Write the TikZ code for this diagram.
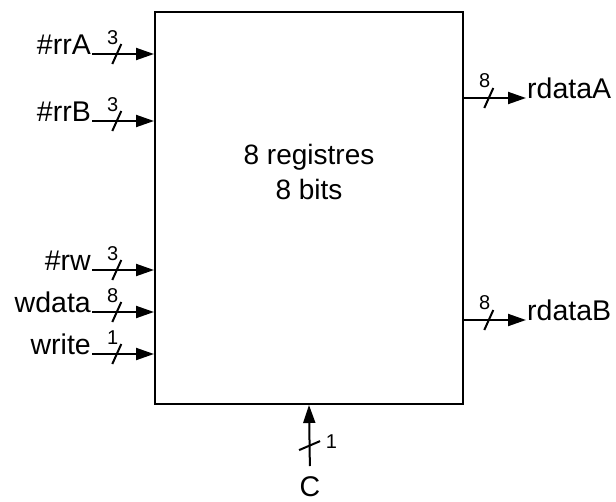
\documentclass[tikz,border=0pt]{standalone}
\usepackage{fontspec}
\setmainfont{Liberation Sans}
\usetikzlibrary{arrows.meta,positioning}

\begin{document}
\begin{tikzpicture}[
                    x=1pt, y=-1pt,
                    reg box/.style={
                        draw,
                        line width=2pt,
                        minimum width=308pt,
                        minimum height=392pt,
                        inner sep=0pt
                    },
                    reg text/.style={align=center, font=\fontsize{28}{35}\selectfont},
                    sig/.style={font=\fontsize{28.5}{32}\selectfont, inner sep=1pt},
                    width label/.style={font=\fontsize{20}{22}\selectfont, inner sep=0pt},
                    bus/.style={draw, line width=2pt, -{Triangle[length=18pt,width=12pt]}},
                    slash line/.style={draw, line width=2pt}
                ]
    \useasboundingbox (0,0) rectangle (616,501);

    \node[reg box] (reg) at (309,208) {};
    \node[reg text] (regtxt) at (309,172) {8 registres\\8 bits};

    % entrees a gauche
    \node[sig, anchor=base east] (rrA) at (92,54) {\#rrA};
    \node[sig, anchor=base east] (rrB) at (92,121) {\#rrB};
    \node[sig, anchor=base east] (rw) at (92,270) {\#rw};
    \node[sig, anchor=base east] (wdata) at (92,312) {wdata};
    \node[sig, anchor=base east] (write) at (92,354) {write};

    \draw[bus] (rrA.base east) -- coordinate[pos=0.4] (rrAs) (reg.west |- rrA.base east);
    \draw[bus] (rrB.base east) -- coordinate[pos=0.4] (rrBs) (reg.west |- rrB.base east);
    \draw[bus] (rw.base east) -- coordinate[pos=0.4] (rws) (reg.west |- rw.base east);
    \draw[bus] (wdata.base east) -- coordinate[pos=0.4] (wdatas) (reg.west |- wdata.base east);
    \draw[bus] (write.base east) -- coordinate[pos=0.4] (writes) (reg.west |- write.base east);

    \draw[slash line] ([shift={(-4.5,10)}]rrAs) -- ([shift={(4.5,-10)}]rrAs);
    \draw[slash line] ([shift={(-4.5,10)}]rrBs) -- ([shift={(4.5,-10)}]rrBs);
    \draw[slash line] ([shift={(-4.5,10)}]rws) -- ([shift={(4.5,-10)}]rws);
    \draw[slash line] ([shift={(-4.5,10)}]wdatas) -- ([shift={(4.5,-10)}]wdatas);
    \draw[slash line] ([shift={(-4.5,10)}]writes) -- ([shift={(4.5,-10)}]writes);

    \node[width label] (rrAw) at ([shift={(-4,-16)}]rrAs) {3};
    \node[width label] (rrBw) at ([shift={(-4,-16)}]rrBs) {3};
    \node[width label] (rww) at ([shift={(-4,-16)}]rws) {3};
    \node[width label] (wdataw) at ([shift={(-4,-16)}]wdatas) {8};
    \node[width label] (writew) at ([shift={(-4,-16)}]writes) {1};

    % sorties a droite
    \node[sig, anchor=base west] (rdataA) at (526,98) {rdataA};
    \node[sig, anchor=base west] (rdataB) at (526,320) {rdataB};

    \draw[bus] (reg.east |- rdataA.base west) -- coordinate[pos=0.4] (rdataAs) (rdataA.base west);
    \draw[bus] (reg.east |- rdataB.base west) -- coordinate[pos=0.4] (rdataBs) (rdataB.base west);

    \draw[slash line] ([shift={(-4.5,10)}]rdataAs) -- ([shift={(4.5,-10)}]rdataAs);
    \draw[slash line] ([shift={(-4.5,10)}]rdataBs) -- ([shift={(4.5,-10)}]rdataBs);

    \node[width label] (rdataAw) at ([shift={(-4,-17)}]rdataAs) {8};
    \node[width label] (rdataBw) at ([shift={(-4,-17)}]rdataBs) {8};

    % horloge
    \node[sig, anchor=north] (C) at (310,475) {C};
    \draw[bus, shorten <=9pt] (C.north) -- coordinate[pos=0.42] (Cs) (reg.south);
    \draw[slash line] ([shift={(-10.5,4.5)}]Cs) -- ([shift={(10.5,-4.5)}]Cs);
    \node[width label, anchor=west] (Cw) at ([shift={(16,-4)}]Cs) {1};
\end{tikzpicture}
\end{document}
